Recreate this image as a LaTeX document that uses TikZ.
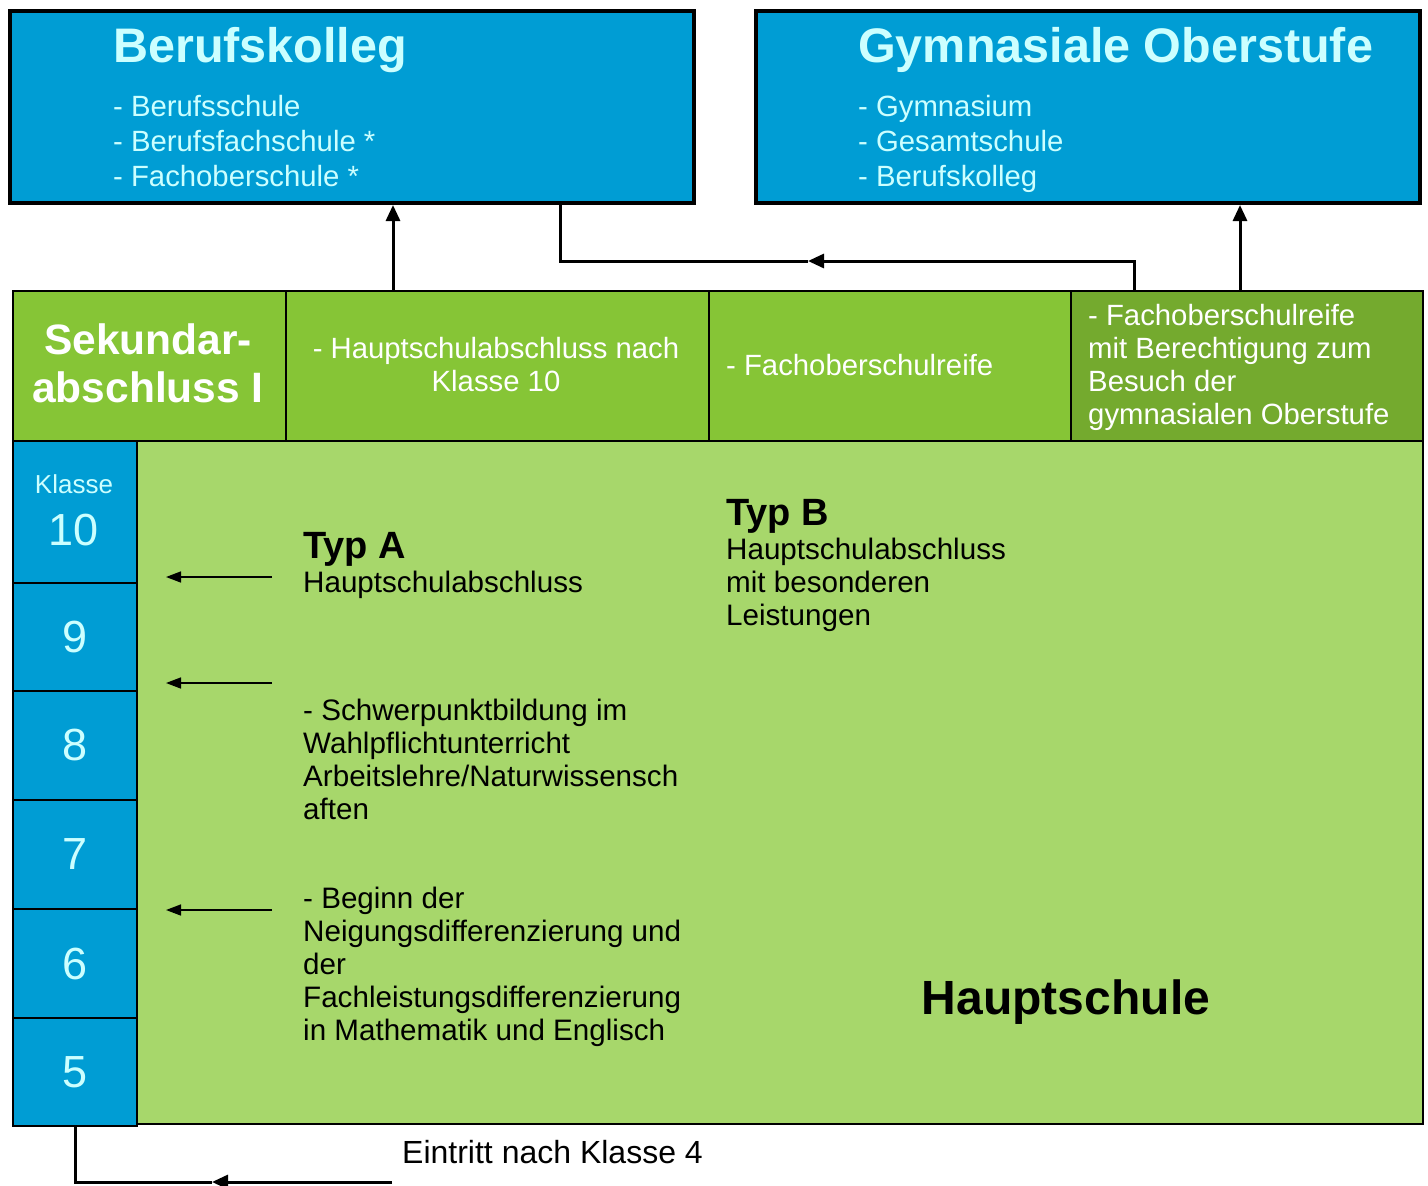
\documentclass[tikz,border=0pt]{standalone}
\usepackage{fontspec}
\setmainfont{Liberation Sans}
\usetikzlibrary{arrows.meta}
\definecolor{kblue}{HTML}{009DD4}
\definecolor{kcyan}{HTML}{CCFFFF}
\definecolor{hgreen}{HTML}{86C536}
\definecolor{dgreen}{HTML}{74AA2E}
\definecolor{lgreen}{HTML}{A7D76B}
\begin{document}
\begin{tikzpicture}[x=1pt,y=-1pt,
  topbox/.style={draw=black,line width=4pt,fill=kblue,minimum height=192pt,inner sep=0pt},
  hcell/.style={draw=black,line width=2pt,fill=hgreen,minimum height=150pt,anchor=north west,inner sep=0pt},
  kcell/.style={draw=black,line width=2pt,fill=kblue,minimum width=124pt,anchor=north west,inner sep=0pt,
    text=kcyan,font=\fontsize{45}{50}\selectfont},
  ttl/.style={text=kcyan,font=\bfseries\fontsize{48.5}{50}\selectfont,inner sep=0pt,anchor=west},
  lst/.style={text=kcyan,font=\fontsize{29.3}{35}\selectfont,inner sep=0pt,anchor=west,align=left},
  wtxt/.style={text=white,font=\fontsize{29.3}{33}\selectfont,inner sep=0pt},
  btxt/.style={text=black,font=\fontsize{29.6}{33}\selectfont,inner sep=0pt,anchor=west,align=left},
  bhead/.style={text=black,font=\bfseries\fontsize{38}{40}\selectfont,inner sep=0pt,anchor=west},
  conn/.style={draw=black,line width=3pt},
  bigtip/.style={-{Triangle[length=16pt,width=14pt]}},
  small/.style={draw=black,line width=1.5pt,-{Triangle[length=15pt,width=11pt]}}
]
\useasboundingbox (0,0) rectangle (1428,1186);
\fill[white] (0,0) rectangle (1428,1186);

% top boxes
\node[topbox,minimum width=684pt] (bk) at (352,107) {};
\node[topbox,minimum width=664pt] (go) at (1088,107) {};
\node[ttl] (bkt) at (113,50) {Berufskolleg};
\node[lst] (bkl) at (113,141) {- Berufsschule\\- Berufsfachschule *\\- Fachoberschule *};
\node[ttl] (got) at (858,50) {Gymnasiale Oberstufe};
\node[lst] (gol) at (858,144) {- Gymnasium\\- Gesamtschule\\- Berufskolleg};

% body
\node[draw=black,line width=2pt,fill=lgreen,minimum width=1286pt,minimum height=683pt,anchor=north west,inner sep=0pt] (body) at (136,440) {};

% header row
\node[hcell,minimum width=273pt] (c1) at (12,290) {};
\node[hcell,minimum width=423pt] (c2) at (285,290) {};
\node[hcell,minimum width=362pt] (c3) at (708,290) {};
\node[hcell,minimum width=352pt,fill=dgreen] (c4) at (1070,290) {};
\node[wtxt,font=\bfseries\fontsize{42.5}{48}\selectfont,align=center] (c1t) at (148,363) {Sekundar-\\abschluss I};
\node[wtxt,align=center] (c2t) at (496,365) {- Hauptschulabschluss nach\\Klasse 10};
\node[wtxt,anchor=west] (c3t) at (726,365) {- Fachoberschulreife};
\node[wtxt,anchor=west,align=left] (c4t) at (1088,367) {- Fachoberschulreife\\mit Berechtigung zum\\Besuch der\\gymnasialen Oberstufe};

% Klasse column
\node[kcell,minimum height=142pt] (k10) at (12,440) {};
\node[text=kcyan,font=\fontsize{26}{28}\selectfont,inner sep=0pt] (kl) at (74,484) {Klasse};
\node[text=kcyan,font=\fontsize{45}{50}\selectfont,inner sep=0pt] (k10t) at (74,530) {10};
\node[kcell,minimum height=108pt] (k9) at (12,582) {9};
\node[kcell,minimum height=109pt] (k8) at (12,690) {8};
\node[kcell,minimum height=109pt] (k7) at (12,799) {7};
\node[kcell,minimum height=109pt] (k6) at (12,908) {6};
\node[kcell,minimum height=108pt] (k5) at (12,1017) {5};

% body texts
\node[bhead] (ta) at (303,549) {Typ A};
\node[btxt] (tat) at (303,585) {Hauptschulabschluss};
\node[bhead] (tb) at (726,516) {Typ B};
\node[btxt] (tbt) at (726,585) {Hauptschulabschluss\\mit besonderen\\Leistungen};
\node[btxt] (sp) at (303,759) {- Schwerpunktbildung im\\Wahlpflichtunterricht\\Arbeitslehre/Naturwissensch\\aften};
\node[btxt] (bg) at (303,967) {- Beginn der\\Neigungsdifferenzierung und\\der\\Fachleistungsdifferenzierung\\in Mathematik und Englisch};
\node[text=black,font=\bfseries\fontsize{48}{50}\selectfont,inner sep=0pt] (hs) at (1066,1002) {Hauptschule};
\node[text=black,font=\fontsize{32}{34}\selectfont,inner sep=0pt,anchor=west] (ein) at (402,1152) {Eintritt nach Klasse 4};

% connectors top
\coordinate (a1) at (393,290);
\draw[conn,bigtip] (a1) -- (a1 |- bk.south);
\coordinate (b1) at (1134,290);
\coordinate (bm) at (808,261);
\coordinate (b2) at (560,261);
\draw[conn,bigtip] (b1) |- (bm);
\draw[conn] (bm) -- (b2) -- (b2 |- bk.south);
\coordinate (g1) at (1240,290);
\draw[conn,bigtip] (g1) -- (g1 |- go.south);

% small arrows
\coordinate (s1) at (272,577); \coordinate (s1e) at (166,577);
\coordinate (s2) at (272,683); \coordinate (s2e) at (166,683);
\coordinate (s3) at (272,910); \coordinate (s3e) at (166,910);
\draw[small] (s1) -- (s1e);
\draw[small] (s2) -- (s2e);
\draw[small] (s3) -- (s3e);

% bottom connector
\coordinate (e1) at (392,1182);
\coordinate (e2) at (212,1182);
\draw[conn,bigtip] (e1) -- (e2);
\draw[conn] (e2) -| (k5.south);
\end{tikzpicture}
\end{document}
